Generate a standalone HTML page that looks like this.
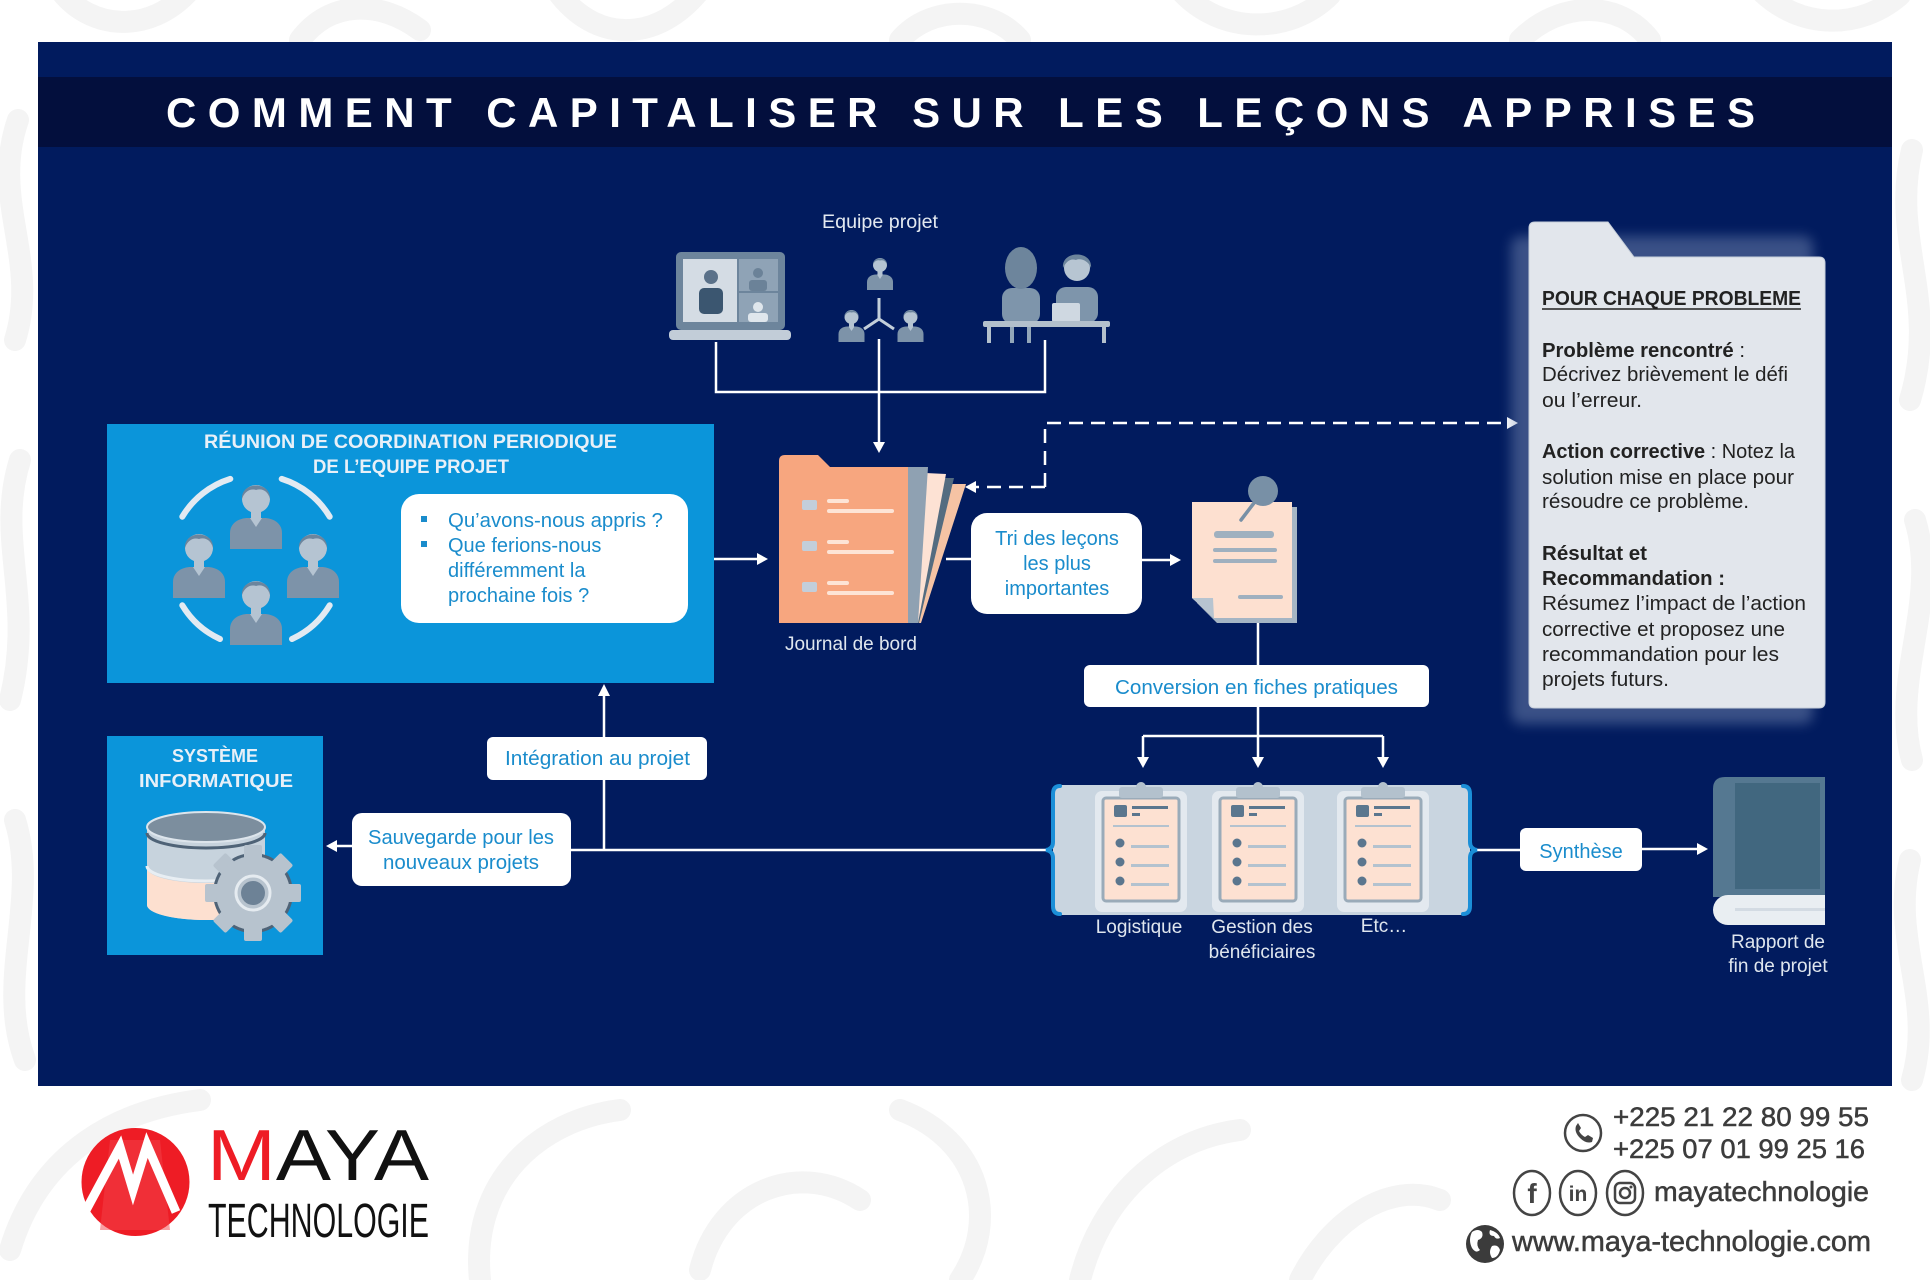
<!DOCTYPE html>
<html><head><meta charset="utf-8">
<style>
html,body{margin:0;padding:0;background:#fff;}
svg{display:block;}
text{font-family:"Liberation Sans",Arial,sans-serif;}
</style></head><body>
<svg width="1930" height="1280" viewBox="0 0 1930 1280" xmlns="http://www.w3.org/2000/svg">
<defs>
 <filter id="blur" x="-20%" y="-20%" width="140%" height="140%"><feGaussianBlur stdDeviation="6"/></filter>
 <symbol id="person" viewBox="0 0 52 72" overflow="visible">
  <path d="M0,72 V56 C0,46 9,41 18,41 H34 C43,41 52,46 52,56 V72 Z" fill="#7d93a9"/>
  <path d="M20,41 L26,50 L32,41 Z" fill="#b5c4d2"/>
  <rect x="21" y="30" width="10" height="12" fill="#b5c4d2"/>
  <circle cx="26" cy="22" r="14" fill="#b5c4d2"/>
  <path d="M12,22 C11,4 41,4 40,22 C38,14 32,11 26,13 C20,11 14,15 12,22 Z" fill="#6c859d"/>
 </symbol>
</defs>

<rect width="1930" height="1280" fill="#fff"/>
<!-- faint background pattern -->
<g fill="none" stroke="#f4f4f4" stroke-width="22" stroke-linecap="round">
 <path d="M60,-10 C90,30 150,35 190,-10"/>
 <path d="M300,40 C330,0 380,0 420,30"/>
 <path d="M560,-5 C600,45 660,40 700,-10"/>
 <path d="M900,40 C930,5 990,5 1020,40"/>
 <path d="M1180,-10 C1220,35 1290,35 1330,-5"/>
 <path d="M1520,40 C1560,0 1620,0 1650,40"/>
 <path d="M1760,-10 C1800,30 1860,30 1900,-5"/>
 <path d="M18,120 C-10,200 40,260 15,340"/>
 <path d="M20,460 C-5,540 35,600 10,700"/>
 <path d="M15,820 C40,900 -5,980 25,1060"/>
 <path d="M1912,150 C1890,240 1940,300 1910,400"/>
 <path d="M1915,520 C1940,600 1890,680 1912,760"/>
 <path d="M1910,860 C1890,940 1935,1000 1912,1080"/>
 <path d="M10,1250 C40,1150 120,1110 200,1100"/>
 <path d="M480,1280 C470,1180 540,1120 620,1110"/>
 <path d="M700,1270 C720,1190 800,1160 860,1200"/>
 <path d="M900,1110 C980,1140 1000,1220 960,1280"/>
 <path d="M1080,1280 C1100,1200 1160,1140 1240,1130"/>
 <path d="M1300,1280 C1330,1220 1390,1180 1440,1200"/>
</g>

<!-- main panel -->
<rect x="38" y="42" width="1854" height="1044" fill="#011b5e"/>
<rect x="38" y="77" width="1854" height="70" fill="#030f3d"/>
<text x="166" y="127" font-size="42" font-weight="bold" fill="#fff" textLength="1589" lengthAdjust="spacing">COMMENT CAPITALISER SUR LES LEÇONS APPRISES</text>

<!-- Equipe projet -->
<text x="822" y="228" font-size="19" fill="#e3e9f0" textLength="116" lengthAdjust="spacingAndGlyphs">Equipe projet</text>

<!-- laptop icon -->
<rect x="676" y="252" width="109" height="78" rx="5" fill="#6d859c"/>
<rect x="683" y="259" width="54" height="63" fill="#d4dce4"/>
<rect x="739" y="259" width="39" height="32" fill="#8fa3b6"/>
<rect x="739" y="293" width="39" height="29" fill="#8fa3b6"/>
<rect x="699" y="288" width="24" height="26" rx="5" fill="#3b5670"/>
<circle cx="711" cy="277" r="7" fill="#5a7189"/>
<rect x="749" y="280" width="18" height="11" rx="3" fill="#6b8298"/>
<circle cx="758" cy="273" r="5" fill="#6b8298"/>
<rect x="748" y="313" width="20" height="9" rx="3" fill="#dfe6ec"/>
<circle cx="758" cy="307" r="5" fill="#dfe6ec"/>
<rect x="669" y="330" width="122" height="10" rx="4" fill="#c2cdd8"/>

<!-- team icon -->
<use href="#person" x="867" y="254" width="26" height="36"/>
<use href="#person" x="838" y="306" width="27" height="36"/>
<use href="#person" x="897" y="306" width="27" height="36"/>
<path d="M879,298 V319 M879,319 L864,329 M879,319 L894,329" stroke="#c3cfda" stroke-width="3" fill="none"/>

<!-- desk icon -->
<rect x="1007" y="300" width="26" height="26" rx="4" fill="#93a7b9"/>
<rect x="1002" y="288" width="38" height="36" rx="10" fill="#7e95ab"/>
<ellipse cx="1021" cy="268" rx="16" ry="21" fill="#6d859c"/>
<rect x="1010" y="326" width="4" height="17" fill="#93a7b9"/>
<rect x="1027" y="326" width="4" height="17" fill="#93a7b9"/>
<rect x="1056" y="287" width="42" height="36" rx="10" fill="#7e95ab"/>
<circle cx="1077" cy="268" r="13" fill="#b7c5d2"/>
<path d="M1063,268 C1061,250 1093,250 1091,268 C1088,260 1080,258 1076,260 C1070,258 1066,262 1063,268 Z" fill="#6d859c"/>
<rect x="1052" y="303" width="28" height="19" rx="2" fill="#cfd8e1"/>
<rect x="983" y="321" width="127" height="6" rx="2" fill="#b3c0cc"/>
<rect x="987" y="327" width="4" height="16" fill="#b3c0cc"/>
<rect x="1102" y="327" width="4" height="16" fill="#b3c0cc"/>

<!-- connectors -->
<g stroke="#fff" stroke-width="2.5" fill="none">
 <path d="M716,342 V392 H1045 V340"/>
 <path d="M879,339 V444"/>
 <path d="M363,559 H401"/>
 <path d="M688,559 H758"/>
 <path d="M946,559 H971"/>
 <path d="M1142,560 H1171"/>
 <path d="M1258,623 V665"/>
 <path d="M1258,707 V758"/>
 <path d="M1143,736 H1383"/>
 <path d="M1143,736 V758"/>
 <path d="M1383,736 V758"/>
 <path d="M571,850 H1047"/>
 <path d="M604,850 V695"/>
 <path d="M352,846 H336"/>
 <path d="M1477,850 H1520"/>
 <path d="M1642,849 H1698"/>
</g>
<g stroke="#fff" stroke-width="2.5" fill="none" stroke-dasharray="14 8">
 <path d="M1045,487 V423 H1508"/>
 <path d="M1045,487 H976"/>
</g>
<g fill="#fff">
 <polygon points="879,453 873,442 885,442"/>
 <polygon points="768,559 757,553 757,565"/>
 <polygon points="1181,560 1170,554 1170,566"/>
 <polygon points="1143,768 1137,757 1149,757"/>
 <polygon points="1258,768 1252,757 1264,757"/>
 <polygon points="1383,768 1377,757 1389,757"/>
 <polygon points="604,684 598,696 610,696"/>
 <polygon points="326,846 337,840 337,852"/>
 <polygon points="1708,849 1697,843 1697,855"/>
 <polygon points="965,487 976,481 976,493"/>
 <polygon points="1518,423 1507,417 1507,429"/>
</g>

<!-- meeting box -->
<rect x="107" y="424" width="607" height="259" fill="#0b95da"/>
<text x="204" y="448" font-size="19.5" font-weight="bold" fill="#e8f0f8" textLength="413" lengthAdjust="spacingAndGlyphs">RÉUNION DE COORDINATION PERIODIQUE</text>
<text x="313" y="473" font-size="19.5" font-weight="bold" fill="#e8f0f8" textLength="196" lengthAdjust="spacingAndGlyphs">DE L’EQUIPE PROJET</text>
<g fill="none" stroke="#e2eaf2" stroke-width="6" stroke-linecap="round">
 <path d="M182.3,516.7 A86,86 0 0 1 230.3,478.9"/>
 <path d="M281.7,478.9 A86,86 0 0 1 329.7,516.7"/>
 <path d="M182.3,605.3 A86,86 0 0 0 220,639"/>
 <path d="M329.7,605.3 A86,86 0 0 1 292,639"/>
</g>
<use href="#person" x="230" y="477" width="52" height="72"/>
<use href="#person" x="172" y="526" width="54" height="72"/>
<use href="#person" x="286" y="526" width="54" height="72"/>
<use href="#person" x="230" y="573" width="52" height="72"/>
<rect x="401" y="494" width="287" height="129" rx="18" fill="#fff"/>
<rect x="421" y="516" width="6" height="6" fill="#1a8ccc"/>
<rect x="421" y="541" width="6" height="6" fill="#1a8ccc"/>
<g font-size="20" fill="#1a8ccc">
 <text x="448" y="527" textLength="215" lengthAdjust="spacingAndGlyphs">Qu’avons-nous appris ?</text>
 <text x="448" y="552">Que ferions-nous</text>
 <text x="448" y="577">différemment la</text>
 <text x="448" y="602">prochaine fois ?</text>
</g>

<!-- journal folder -->
<polygon points="905,484 966,484 921,623 905,623" fill="#f5c3a4"/>
<polygon points="905,478 954,478 919,623 905,623" fill="#546c80"/>
<polygon points="905,472 946,474 918,623 905,623" fill="#fde2d4"/>
<polygon points="905,467 928,467 918,623 905,623" fill="#8fa1b2"/>
<path d="M779,461 Q779,455 785,455 L818,455 L830,467 L908,467 L908,623 L779,623 Z" fill="#f7a67f"/>
<g fill="#c3ceda">
 <rect x="802" y="500" width="15" height="10" rx="2"/>
 <rect x="802" y="541" width="15" height="10" rx="2"/>
 <rect x="802" y="582" width="15" height="10" rx="2"/>
</g>
<g fill="#fde4d6">
 <rect x="827" y="499" width="22" height="4" rx="2"/><rect x="827" y="509" width="67" height="4" rx="2"/>
 <rect x="827" y="540" width="22" height="4" rx="2"/><rect x="827" y="550" width="67" height="4" rx="2"/>
 <rect x="827" y="581" width="22" height="4" rx="2"/><rect x="827" y="591" width="67" height="4" rx="2"/>
</g>
<text x="851" y="650" font-size="19" fill="#dfe6ee" text-anchor="middle">Journal de bord</text>

<!-- Tri box -->
<rect x="971" y="513" width="171" height="101" rx="16" fill="#fff"/>
<g font-size="20" fill="#1a8ccc" text-anchor="middle">
 <text x="1057" y="545">Tri des leçons</text>
 <text x="1057" y="570">les plus</text>
 <text x="1057" y="595">importantes</text>
</g>

<!-- doc icon -->
<path d="M1197,507 H1297 V623 H1217 L1197,603 Z" fill="#a5b5c4"/>
<path d="M1192,502 H1292 V618 H1214 L1192,598 Z" fill="#fde0d0"/>
<polygon points="1192,598 1213,598 1214,618" fill="#b7c4d0"/>
<rect x="1214" y="531" width="60" height="7" rx="3" fill="#9fb0bf"/>
<rect x="1213" y="548" width="64" height="4" rx="2" fill="#9fb0bf"/>
<rect x="1213" y="559" width="64" height="4" rx="2" fill="#9fb0bf"/>
<rect x="1238" y="595" width="45" height="4" rx="2" fill="#9fb0bf"/>
<line x1="1254" y1="503" x2="1241" y2="520" stroke="#7890a6" stroke-width="3.5" stroke-linecap="round"/>
<circle cx="1263" cy="491" r="15" fill="#7890a6"/>

<!-- Conversion -->
<rect x="1084" y="665" width="345" height="42" rx="6" fill="#fff"/>
<text x="1115" y="694" font-size="20" fill="#1a8ccc" textLength="283" lengthAdjust="spacingAndGlyphs">Conversion en fiches pratiques</text>

<!-- fiches group -->
<rect x="1053" y="785" width="417" height="130" rx="6" fill="#c9d5e0"/>
<g fill="none" stroke="#1b8fd8" stroke-width="4" stroke-linecap="round">
 <path d="M1060,786 Q1053,786 1053,794 V842 Q1053,849 1046,850 Q1053,851 1053,858 V906 Q1053,914 1060,914"/>
 <path d="M1463,786 Q1470,786 1470,794 V842 Q1470,849 1477,850 Q1470,851 1470,858 V906 Q1470,914 1463,914"/>
</g>
<g id="clip1" transform="translate(1095,0)">
 <rect x="0" y="791" width="92" height="121" rx="7" fill="#e3e9ef"/>
 <rect x="8" y="798" width="76" height="103" rx="3" fill="#fde1d2" stroke="#9aabb9" stroke-width="3"/>
 <rect x="24" y="787" width="44" height="11" rx="3" fill="#b3c1cd"/>
 <circle cx="46" cy="787" r="5" fill="#b3c1cd"/>
 <rect x="19" y="805" width="13" height="12" rx="2" fill="#5b768e"/>
 <rect x="37" y="806" width="36" height="3" fill="#5b768e"/>
 <rect x="37" y="813" width="8" height="3" fill="#5b768e"/>
 <rect x="18" y="825" width="56" height="2" fill="#b3c2cf"/>
 <circle cx="25" cy="843" r="4.5" fill="#5b768e"/>
 <circle cx="25" cy="862" r="4.5" fill="#5b768e"/>
 <circle cx="25" cy="881" r="4.5" fill="#5b768e"/>
 <rect x="36" y="845" width="38" height="3" fill="#b3c2cf"/>
 <rect x="36" y="864" width="38" height="3" fill="#b3c2cf"/>
 <rect x="36" y="883" width="38" height="3" fill="#b3c2cf"/>
</g>
<use href="#clip1" x="117" y="0"/>
<use href="#clip1" x="242" y="0"/>
<g font-size="19" fill="#dfe6ee" text-anchor="middle">
 <text x="1139" y="933">Logistique</text>
 <text x="1262" y="933">Gestion des</text>
 <text x="1262" y="958">bénéficiaires</text>
 <text x="1384" y="932">Etc…</text>
</g>

<!-- Synthèse + book -->
<rect x="1520" y="828" width="122" height="43" rx="6" fill="#fff"/>
<text x="1581" y="858" font-size="20" fill="#1a8ccc" text-anchor="middle">Synthèse</text>
<path d="M1725,777 H1825 V897 H1713 V789 Q1713,777 1725,777 Z" fill="#557891"/>
<rect x="1735" y="783" width="85" height="106" fill="#41677f"/>
<path d="M1728,895 H1825 V925 H1728 A15,15 0 0 1 1728,895 Z" fill="#e9eef2"/>
<rect x="1735" y="908" width="90" height="3" fill="#d3dbe3"/>
<g font-size="19" fill="#dfe6ee" text-anchor="middle">
 <text x="1778" y="948">Rapport de</text>
 <text x="1778" y="972">fin de projet</text>
</g>

<!-- Intégration / Sauvegarde -->
<rect x="487" y="737" width="220" height="43" rx="6" fill="#fff"/>
<text x="505" y="765" font-size="20" fill="#1a8ccc" textLength="185" lengthAdjust="spacingAndGlyphs">Intégration au projet</text>
<rect x="352" y="813" width="219" height="73" rx="10" fill="#fff"/>
<text x="368" y="844" font-size="20" fill="#1a8ccc" textLength="186" lengthAdjust="spacingAndGlyphs">Sauvegarde pour les</text>
<text x="383" y="869" font-size="20" fill="#1a8ccc" textLength="156" lengthAdjust="spacingAndGlyphs">nouveaux projets</text>

<!-- Système informatique -->
<rect x="107" y="736" width="216" height="219" fill="#0b95da"/>
<text x="215" y="762" font-size="18" font-weight="bold" fill="#e8f0f8" text-anchor="middle">SYSTÈME</text>
<text x="139" y="787" font-size="18" font-weight="bold" fill="#e8f0f8" textLength="154" lengthAdjust="spacingAndGlyphs">INFORMATIQUE</text>
<path d="M147,827 V905 A59,15 0 0 0 265,905 V827 Z" fill="#c7d3dd"/>
<path d="M147,868 V905 A59,15 0 0 0 265,905 V868 A59,15 0 0 1 147,868 Z" fill="#fde0d0"/>
<path d="M147,866 A59,15 0 0 0 265,866" fill="none" stroke="#e8eef3" stroke-width="3"/>
<path d="M147,833 A59,15 0 0 0 265,833" fill="none" stroke="#4f6377" stroke-width="3"/>
<ellipse cx="206" cy="827" rx="59" ry="15" fill="#7c8e9e" stroke="#dde5ec" stroke-width="2"/>
<g transform="translate(253,893)">
 <circle r="40" fill="#4f6377"/>
 <g fill="#b7c3ce">
  <rect x="-9" y="-48" width="18" height="16" rx="2"/>
  <rect x="-9" y="-48" width="18" height="16" rx="2" transform="rotate(45)"/>
  <rect x="-9" y="-48" width="18" height="16" rx="2" transform="rotate(90)"/>
  <rect x="-9" y="-48" width="18" height="16" rx="2" transform="rotate(135)"/>
  <rect x="-9" y="-48" width="18" height="16" rx="2" transform="rotate(180)"/>
  <rect x="-9" y="-48" width="18" height="16" rx="2" transform="rotate(225)"/>
  <rect x="-9" y="-48" width="18" height="16" rx="2" transform="rotate(270)"/>
  <rect x="-9" y="-48" width="18" height="16" rx="2" transform="rotate(315)"/>
  <circle r="37"/>
 </g>
 <circle r="17" fill="none" stroke="#e5ebf0" stroke-width="3"/>
 <circle r="12" fill="#6d8296"/>
</g>

<!-- problem card -->
<rect x="1511" y="236" width="302" height="488" rx="10" fill="#7f92b8" opacity="0.45" filter="url(#blur)"/>
<path d="M1535,222 H1608 L1634,257 H1819 Q1825,257 1825,263 V702 Q1825,708 1819,708 H1535 Q1529,708 1529,702 V228 Q1529,222 1535,222 Z" fill="#e2e6ec" stroke="#c7cfda" stroke-width="1"/>
<g font-size="20" fill="#222">
 <text x="1542" y="305" font-weight="bold" textLength="259" lengthAdjust="spacingAndGlyphs">POUR CHAQUE PROBLEME</text>
 <text x="1542" y="357" textLength="203" lengthAdjust="spacingAndGlyphs"><tspan font-weight="bold">Problème rencontré</tspan> :</text>
 <text x="1542" y="381" textLength="246" lengthAdjust="spacingAndGlyphs">Décrivez brièvement le défi</text>
 <text x="1542" y="407" textLength="100" lengthAdjust="spacingAndGlyphs">ou l’erreur.</text>
 <text x="1542" y="458" textLength="253" lengthAdjust="spacingAndGlyphs"><tspan font-weight="bold">Action corrective</tspan> : Notez la</text>
 <text x="1542" y="484" textLength="252" lengthAdjust="spacingAndGlyphs">solution mise en place pour</text>
 <text x="1542" y="508" textLength="207" lengthAdjust="spacingAndGlyphs">résoudre ce problème.</text>
 <text x="1542" y="560" font-weight="bold" textLength="105" lengthAdjust="spacingAndGlyphs">Résultat et</text>
 <text x="1542" y="585" font-weight="bold" textLength="183" lengthAdjust="spacingAndGlyphs">Recommandation :</text>
 <text x="1542" y="610" textLength="264" lengthAdjust="spacingAndGlyphs">Résumez l’impact de l’action</text>
 <text x="1542" y="636" textLength="243" lengthAdjust="spacingAndGlyphs">corrective et proposez une</text>
 <text x="1542" y="661" textLength="237" lengthAdjust="spacingAndGlyphs">recommandation pour les</text>
 <text x="1542" y="686" textLength="127" lengthAdjust="spacingAndGlyphs">projets futurs.</text>
</g>
<line x1="1542" y1="309" x2="1801" y2="309" stroke="#222" stroke-width="1.6"/>

<!-- footer logo -->
<circle cx="135.5" cy="1182" r="54" fill="#ee1c25"/>
<path d="M110,1140 L160,1140 L170,1230 L100,1230 Z" fill="#f2424a" opacity="0.5"/>
<polyline points="85,1212 120,1147 133,1190 147,1145 176,1212" fill="none" stroke="#fff" stroke-width="9" stroke-linejoin="miter"/>
<text x="207" y="1180" font-size="72" fill="#111" textLength="222" lengthAdjust="spacingAndGlyphs"><tspan fill="#ee1c25">M</tspan>AYA</text>
<text x="208" y="1237" font-size="48" fill="#111" textLength="221" lengthAdjust="spacingAndGlyphs">TECHNOLOGIE</text>

<!-- footer contacts -->
<g fill="#3c3c3c" stroke="#3c3c3c" stroke-width="0.5">
 <text x="1613" y="1126" font-size="27" textLength="256" lengthAdjust="spacingAndGlyphs">+225 21 22 80 99 55</text>
 <text x="1613" y="1158" font-size="27" textLength="252" lengthAdjust="spacingAndGlyphs">+225 07 01 99 25 16</text>
 <text x="1654" y="1201" font-size="28" textLength="215" lengthAdjust="spacingAndGlyphs">mayatechnologie</text>
 <text x="1512" y="1251" font-size="28.5" textLength="359" lengthAdjust="spacingAndGlyphs">www.maya-technologie.com</text>
</g>
<g fill="none" stroke="#444" stroke-width="2.5">
 <circle cx="1583" cy="1133" r="18"/>
 <ellipse cx="1532" cy="1193" rx="18" ry="22"/>
 <ellipse cx="1578" cy="1193" rx="18" ry="22"/>
 <ellipse cx="1625" cy="1193" rx="18" ry="22"/>
 <rect x="1615" y="1183" width="20" height="20" rx="5"/>
 <circle cx="1625" cy="1193" r="5"/>
</g>
<path d="M1576,1126 q-2,6 4,12 q6,6 12,4 l1,-4 l-5,-3 l-3,2 q-4,-2 -6,-6 l2,-3 l-3,-5 z" fill="#444"/>
<circle cx="1631" cy="1187" r="1.5" fill="#444"/>
<text x="1532" y="1203" font-size="28" font-weight="bold" fill="#444" text-anchor="middle">f</text>
<text x="1578" y="1201" font-size="21" font-weight="bold" fill="#444" text-anchor="middle">in</text>
<circle cx="1485" cy="1244" r="19" fill="#3b3b3b"/>
<path d="M1472,1232 q6,-4 10,0 q2,6 -4,8 q-2,6 2,10 q-4,4 -8,-2 q-4,-8 0,-16 z M1490,1230 q8,2 10,8 q-4,2 -6,-2 q-6,0 -4,-6 z M1492,1246 q6,-2 8,4 q-2,8 -8,8 q-4,-6 0,-12 z" fill="#fff"/>
</svg>
</body></html>
